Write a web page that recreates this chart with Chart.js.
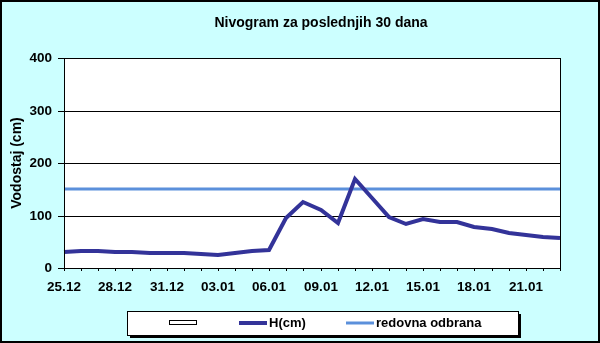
<!DOCTYPE html>
<html>
<head>
<meta charset="utf-8">
<script src="https://cdn.jsdelivr.net/npm/chart.js@4.4.1/dist/chart.umd.min.js"></script>
<style>
html,body{margin:0;padding:0;background:#fff;}
canvas{display:block;}
</style>
</head>
<body>
<canvas id="c" width="600" height="343"></canvas>
<script>
/* ===== data ===== */
const days=["25.12","26.12","27.12","28.12","29.12","30.12","31.12",
  "01.01","02.01","03.01","04.01","05.01","06.01","07.01","08.01","09.01","10.01",
  "11.01","12.01","13.01","14.01","15.01","16.01","17.01","18.01","19.01","20.01",
  "21.01","22.01","23.01"];
const level=[31,33,33,31,31,29,29,28,26,24,29,33,35,95,125,110,85,169,134,98,83,93,88,87,79,75,66,62,60,57];
const defence=[150,150,150,150,150,150,150,150,150,150,150,150,150,150,150,150,150,150,150,150,150,150,150,150,150,150,150,150,150,150];
const yTicks=[0,100,200,300,400];
const title="Nivogram za poslednjih 30 dana";
const yTitle="Vodostaj (cm)";

const FONT="'Liberation Sans', Arial, sans-serif";

/* ===== background, frame, title, legend ===== */
const frame={
  id:"frame",
  beforeDraw(chart){
    const {ctx,chartArea:ca}=chart;
    ctx.save();
    ctx.fillStyle="#CCFFFF";
    ctx.fillRect(0,0,chart.width,chart.height);
    ctx.fillStyle="#fff";
    ctx.fillRect(ca.left,ca.top,ca.right-ca.left,ca.bottom-ca.top);
    ctx.restore();
  },
  afterDraw(chart){
    const {ctx,chartArea:ca}=chart;
    ctx.save();
    // plot border
    ctx.strokeStyle="#000";ctx.lineWidth=1;
    ctx.strokeRect(Math.round(ca.left)+0.5,Math.round(ca.top)+0.5,Math.round(ca.right-ca.left),Math.round(ca.bottom-ca.top));
    // outer border
    ctx.lineWidth=2;
    ctx.strokeRect(1,1,chart.width-2,chart.height-2);
    // title
    ctx.fillStyle="#000";
    ctx.font="bold 14px "+FONT;
    ctx.textAlign="center";ctx.textBaseline="middle";
    ctx.fillText(title,321,23);
    // legend box with shadow
    ctx.fillStyle="#000";ctx.fillRect(130,314,391,24);
    ctx.fillStyle="#fff";ctx.fillRect(127,311,391,24);
    ctx.lineWidth=1;ctx.strokeRect(127.5,311.5,391,24);
    ctx.strokeRect(169.5,320.5,27,4);
    const ds=chart.data.datasets;
    const items=[[239,ds[0]],[346,ds[1]]];
    ctx.font="bold 13px "+FONT;ctx.textAlign="left";
    items.forEach(([x,d])=>{
      ctx.strokeStyle=d.borderColor;ctx.lineWidth=d.borderWidth;
      ctx.beginPath();ctx.moveTo(x,323);ctx.lineTo(x+28,323);ctx.stroke();
      ctx.fillStyle="#000";
      ctx.fillText(d.label,x+30,323.5);
    });
    ctx.restore();
  }
};

new Chart(document.getElementById("c"),{
  type:"line",
  data:{
    labels:days,
    datasets:[
      {label:"H(cm)",data:level,borderColor:"#333399",borderWidth:4,pointRadius:0,tension:0},
      {label:"redovna odbrana",data:defence,borderColor:"#5B90DB",borderWidth:3,pointRadius:0,tension:0}
    ]
  },
  options:{
    responsive:false,animation:false,devicePixelRatio:1,
    layout:{padding:{left:0,right:40,top:58,bottom:52}},
    plugins:{legend:{display:false},tooltip:{enabled:false},title:{display:false}},
    scales:{
      x:{
        offset:false,alignToPixels:true,
        grid:{display:true,drawOnChartArea:false,drawTicks:true,tickLength:3,color:"#000"},
        border:{display:true,color:"#000"},
        ticks:{autoSkip:false,maxRotation:0,minRotation:0,padding:8,color:"#000",
          font:{family:FONT,size:13.5,weight:"bold"},
          callback:(v,i)=>i%3===0?days[i]:""},
        afterFit:s=>{s.height=23;}
      },
      y:{
        min:yTicks[0],max:yTicks[yTicks.length-1],alignToPixels:true,
        grid:{color:"#000",lineWidth:1,tickLength:6},
        border:{display:true,color:"#000"},
        ticks:{stepSize:yTicks[1]-yTicks[0],padding:6,color:"#000",
          font:{family:FONT,size:13.5,weight:"bold"}},
        title:{display:true,text:yTitle,color:"#000",padding:{top:9,bottom:0},
          font:{family:FONT,size:14,weight:"bold"}},
        afterFit:s=>{s.width=64;}
      }
    }
  },
  plugins:[frame]
});
</script>
</body>
</html>
